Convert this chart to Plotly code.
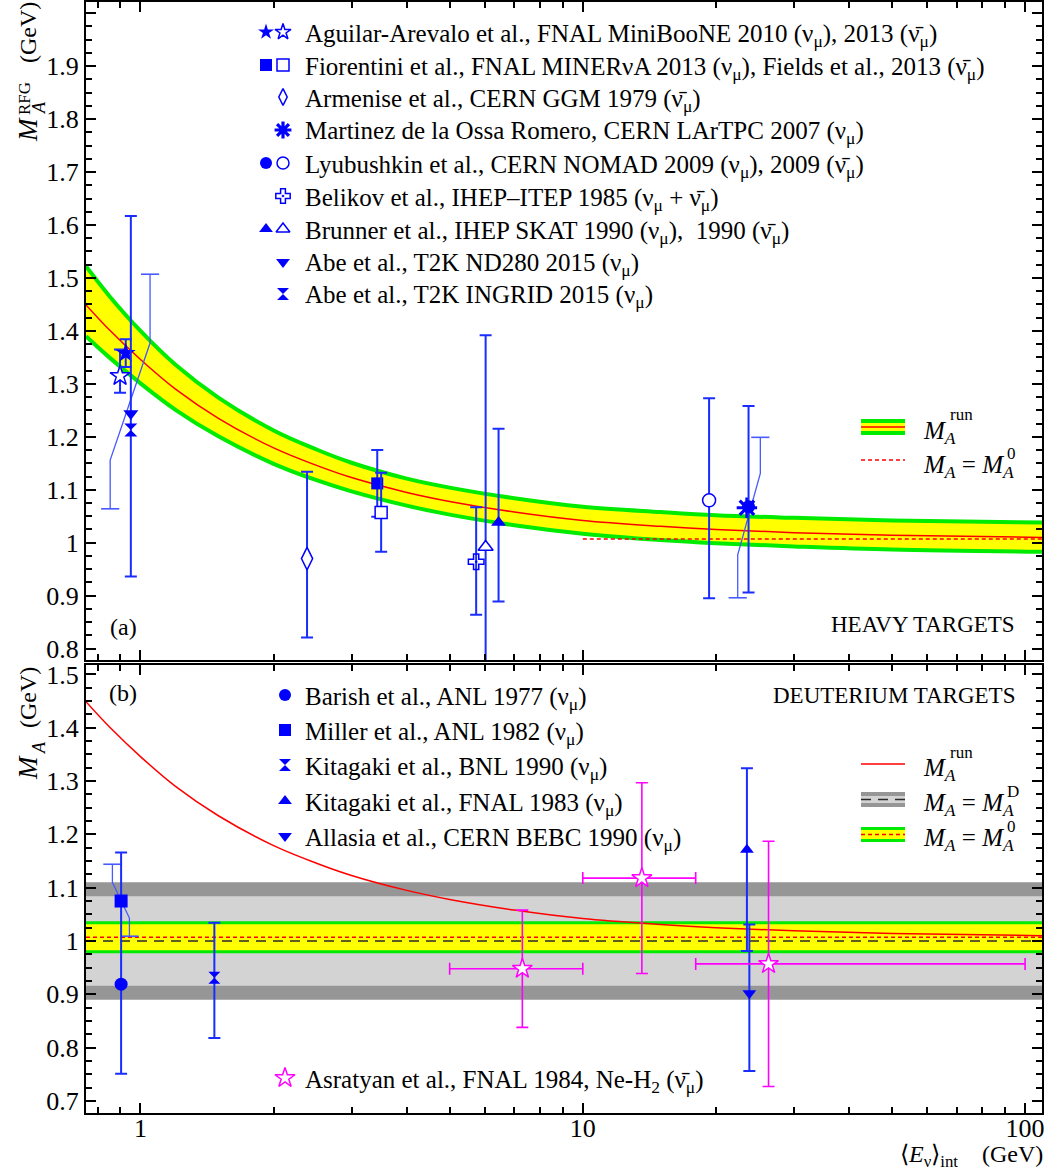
import math
import plotly.graph_objects as go

# ---------------------------------------------------------------- page geometry
W, H = 1047, 1175
ML, MR, MT, MB = 86, 5, 2, 62
PW, PH = W - ML - MR, H - MT - MB

FONT = "Liberation Serif"
BLUE = "rgb(0,0,255)"
BAR_BLUE = "rgb(25,45,255)"
THIN_BLUE = "rgb(70,90,255)"
MAGENTA = "rgb(255,0,255)"
RED = "rgb(255,0,0)"
GREEN = "rgb(0,235,0)"
YELLOW = "rgb(255,255,0)"
DARK_GRAY = "rgb(150,150,150)"
LIGHT_GRAY = "rgb(211,211,211)"

NUB = "ν\u0304"          # antineutrino
NUMU = "ν<sub>μ</sub>"
NUBMU = NUB + "<sub>μ</sub>"

# ---------------------------------------------------------------- axis ranges
E_MIN, E_MAX = 0.753, 109.2
TOP_RANGE = [0.7785, 2.0211]
BOT_RANGE = [0.6773, 1.5178]

# ---------------------------------------------------------------- running axial mass and its band
E_run = [0.753, 0.85, 1.0, 1.2, 1.5, 2.0, 2.5, 3.0, 4.0, 5.0, 7.0, 10.0, 15.0, 20.0, 30.0, 50.0, 110.0]
MA_run = [1.449, 1.402, 1.346, 1.290, 1.235, 1.179, 1.146, 1.123, 1.095, 1.078, 1.058, 1.042,
          1.031, 1.025, 1.019, 1.014, 1.010]
MA_run_hi = [1.522, 1.466, 1.400, 1.336, 1.274, 1.212, 1.176, 1.151, 1.121, 1.104, 1.084, 1.068,
             1.058, 1.052, 1.047, 1.042, 1.038]
MA_run_lo = [1.390, 1.350, 1.301, 1.251, 1.201, 1.149, 1.118, 1.097, 1.070, 1.053, 1.033, 1.017,
             1.005, 0.999, 0.993, 0.987, 0.983]

MA0 = 1.007
MA0_err = 0.027
MA0_from = 10.0
MAD = 1.0
MAD_err_inner = 0.084
MAD_err_outer = 0.110

# ---------------------------------------------------------------- heavy targets
miniboone_nu_E, miniboone_nu_M = [0.926], [1.358]
miniboone_nu_up, miniboone_nu_dn = [0.026], [0.026]
miniboone_nubar_E, miniboone_nubar_M = [0.899], [1.315]
miniboone_nubar_up, miniboone_nubar_dn = [0.050], [0.032]

minerva_nu_E, minerva_nu_M = [3.43], [1.112]
minerva_nu_up, minerva_nu_dn = [0.063], [0.063]
minerva_nubar_E, minerva_nubar_M = [3.50], [1.057]
minerva_nubar_up, minerva_nubar_dn = [0.075], [0.074]

ggm_E, ggm_M = [2.38], [0.970]
ggm_up, ggm_dn = [0.164], [0.149]

lartpc_E, lartpc_M = [23.5], [1.066]
lartpc_bar_E = [25.2, 25.2, 22.4, 22.4]
lartpc_bar_M = [1.199, 1.131, 0.977, 0.896]

nomad_nu_E, nomad_nu_M = [23.7], [1.068]
nomad_nu_up, nomad_nu_dn = [0.190], [0.162]
nomad_nubar_E, nomad_nubar_M = [19.3], [1.080]
nomad_nubar_up, nomad_nubar_dn = [0.193], [0.185]

belikov_E, belikov_M = [5.74], [0.964]
belikov_up, belikov_dn = [0.103], [0.100]

skat_nu_E, skat_nu_M = [6.45], [1.038]
skat_nu_up, skat_nu_dn = [0.177], [0.149]
skat_nubar_E, skat_nubar_M = [6.03], [0.992]
skat_nubar_up, skat_nubar_dn = [0.400], [0.400]

nd280_E, nd280_M = [0.951], [1.244]
nd280_bar_E = [1.051, 1.051, 0.854, 0.854]
nd280_bar_M = [1.507, 1.377, 1.156, 1.064]

ingrid_E, ingrid_M = [0.951], [1.213]
ingrid_up, ingrid_dn = [0.404], [0.277]

# ---------------------------------------------------------------- deuterium targets
barish_E, barish_M = [0.904], [0.919]
barish_up, barish_dn = [0.247], [0.168]

miller_E, miller_M = [0.904], [1.075]
miller_bar_E = [0.864, 0.864, 0.944, 0.944]
miller_bar_M = [1.144, 1.110, 1.043, 1.009]

kitagaki_bnl_E, kitagaki_bnl_M = [1.469], [0.931]
kitagaki_bnl_up, kitagaki_bnl_dn = [0.103], [0.113]

kitagaki_fnal_E, kitagaki_fnal_M = [23.5], [1.171]
kitagaki_fnal_up, kitagaki_fnal_dn = [0.153], [0.190]

allasia_E, allasia_M = [23.8], [0.902]
allasia_up, allasia_dn = [0.129], [0.146]

asratyan_E = [7.3, 13.6, 26.3]
asratyan_E_lo = [5.0, 10.0, 18.0]
asratyan_E_hi = [10.0, 18.0, 100.0]
asratyan_M = [0.948, 1.118, 0.957]
asratyan_err = [0.110, 0.179, 0.230]

# ---------------------------------------------------------------- legend entries
heavy_legend = [
    ("Aguilar-Arevalo et al., FNAL MiniBooNE 2010 (" + NUMU + "), 2013 (" + NUBMU + ")",
     [("star", True), ("star", False)]),
    ("Fiorentini et al., FNAL MINERνA 2013 (" + NUMU + "), Fields et al., 2013 (" + NUBMU + ")",
     [("square", True), ("square", False)]),
    ("Armenise et al., CERN GGM 1979 (" + NUBMU + ")", [("diamond-tall", False)]),
    ("Martinez de la Ossa Romero, CERN LArTPC 2007 (" + NUMU + ")", [("asterisk-open", True)]),
    ("Lyubushkin et al., CERN NOMAD 2009 (" + NUMU + "), 2009 (" + NUBMU + ")",
     [("circle", True), ("circle", False)]),
    ("Belikov et al., IHEP–ITEP 1985 (" + NUMU + " + " + NUBMU + ")", [("cross-open-dot", False)]),
    ("Brunner et al., IHEP SKAT 1990 (" + NUMU + "),  1990 (" + NUBMU + ")",
     [("triangle-up", True), ("triangle-up", False)]),
    ("Abe et al., T2K ND280 2015 (" + NUMU + ")", [("triangle-down", True)]),
    ("Abe et al., T2K INGRID 2015 (" + NUMU + ")", [("hourglass", True)]),
]
heavy_legend_rows = [32, 65, 97, 130, 163, 196, 229, 262, 294]

deut_legend = [
    ("Barish et al., ANL 1977 (" + NUMU + ")", "circle"),
    ("Miller et al., ANL 1982 (" + NUMU + ")", "square"),
    ("Kitagaki et al., BNL 1990 (" + NUMU + ")", "hourglass"),
    ("Kitagaki et al., FNAL 1983 (" + NUMU + ")", "triangle-up"),
    ("Allasia et al., CERN BEBC 1990 (" + NUMU + ")", "triangle-down"),
]
deut_legend_rows = [695, 730, 765, 801, 836]
asratyan_label = "Asratyan et al., FNAL 1984, Ne-H<sub>2</sub> (" + NUBMU + ")"


def PX(x):
    return (x - ML) / PW


def PY(y):
    return (H - MB - y) / PH


fig = go.Figure()


def marker_style(symbol, filled, size, color=BLUE):
    if symbol == "asterisk-open":
        return dict(symbol=symbol, size=size + 2, color=color, line=dict(color=color, width=3.2))
    if symbol.endswith("-open-dot"):
        return dict(symbol=symbol, size=size, color=color, line=dict(color=color, width=1.5))
    if filled:
        return dict(symbol=symbol, size=size, color=color, line=dict(width=0))
    return dict(symbol=symbol, size=size, color="white", line=dict(color=color, width=1.5))


def add_points(E, M, up, dn, symbol, filled, xa, ya, size=14, color=BLUE, bar=BAR_BLUE,
               ex_hi=None, ex_lo=None, thick=2.0):
    tr = go.Scatter(x=E, y=M, mode="markers", marker=marker_style(symbol, filled, size, color),
                    xaxis=xa, yaxis=ya, hoverinfo="skip", showlegend=False, cliponaxis=True)
    if up is not None:
        tr.error_y = dict(type="data", symmetric=False, array=up, arrayminus=dn,
                          color=bar, thickness=thick, width=6)
    if ex_hi is not None:
        tr.error_x = dict(type="data", symmetric=False,
                          array=[h - e for h, e in zip(ex_hi, E)],
                          arrayminus=[e - l for e, l in zip(E, ex_lo)],
                          color=bar, thickness=thick, width=6)
    fig.add_trace(tr)


def add_bent_bar(E_path, M_path, xa, ya, color=THIN_BLUE):
    fig.add_trace(go.Scatter(x=E_path, y=M_path, mode="lines", line=dict(color=color, width=1.3),
                             xaxis=xa, yaxis=ya, hoverinfo="skip", showlegend=False))
    fig.add_trace(go.Scatter(x=[E_path[0], E_path[-1]], y=[M_path[0], M_path[-1]], mode="markers",
                             marker=dict(symbol="line-ew", size=13, line=dict(color=color, width=1.6)),
                             xaxis=xa, yaxis=ya, hoverinfo="skip", showlegend=False))


# ================================================================ (a) heavy targets
fig.add_trace(go.Scatter(x=E_run, y=MA_run_lo, mode="lines", line=dict(width=0, shape="spline"),
                         xaxis="x", yaxis="y", hoverinfo="skip", showlegend=False))
fig.add_trace(go.Scatter(x=E_run, y=MA_run_hi, mode="lines", line=dict(width=0, shape="spline"),
                         fill="tonexty", fillcolor=YELLOW,
                         xaxis="x", yaxis="y", hoverinfo="skip", showlegend=False))
for edge in (MA_run_hi, MA_run_lo):
    fig.add_trace(go.Scatter(x=E_run, y=edge, mode="lines", line=dict(color=GREEN, width=4, shape="spline"),
                             xaxis="x", yaxis="y", hoverinfo="skip", showlegend=False))
fig.add_trace(go.Scatter(x=E_run, y=MA_run, mode="lines", line=dict(color=RED, width=1.5, shape="spline"),
                         xaxis="x", yaxis="y", hoverinfo="skip", showlegend=False))
fig.add_trace(go.Scatter(x=[MA0_from, E_run[-1]], y=[MA0, MA0], mode="lines",
                         line=dict(color=RED, width=1.5, dash="4px,3px"),
                         xaxis="x", yaxis="y", hoverinfo="skip", showlegend=False))

add_bent_bar(nd280_bar_E, nd280_bar_M, "x", "y")
add_bent_bar(lartpc_bar_E, lartpc_bar_M, "x", "y")

add_points(miniboone_nubar_E, miniboone_nubar_M, miniboone_nubar_up, miniboone_nubar_dn, "star", False, "x", "y", size=15)
add_points(miniboone_nu_E, miniboone_nu_M, miniboone_nu_up, miniboone_nu_dn, "star", True, "x", "y", size=15)
add_points(ingrid_E, ingrid_M, ingrid_up, ingrid_dn, "hourglass", True, "x", "y", size=13)
add_points(nd280_E, nd280_M, None, None, "triangle-down", True, "x", "y", size=13)
add_points(ggm_E, ggm_M, ggm_up, ggm_dn, "diamond-tall", False, "x", "y", size=16)
add_points(minerva_nu_E, minerva_nu_M, minerva_nu_up, minerva_nu_dn, "square", True, "x", "y", size=12)
add_points(minerva_nubar_E, minerva_nubar_M, minerva_nubar_up, minerva_nubar_dn, "square", False, "x", "y", size=12)
add_points(belikov_E, belikov_M, belikov_up, belikov_dn, "cross-open-dot", False, "x", "y", size=13)
add_points(skat_nubar_E, skat_nubar_M, skat_nubar_up, skat_nubar_dn, "triangle-up", False, "x", "y", size=13)
add_points(skat_nu_E, skat_nu_M, skat_nu_up, skat_nu_dn, "triangle-up", True, "x", "y", size=13)
add_points(nomad_nubar_E, nomad_nubar_M, nomad_nubar_up, nomad_nubar_dn, "circle", False, "x", "y", size=13)
add_points(lartpc_E, lartpc_M, None, None, "asterisk-open", True, "x", "y", size=15)
add_points(nomad_nu_E, nomad_nu_M, nomad_nu_up, nomad_nu_dn, "circle", True, "x", "y", size=13)

# ================================================================ (b) deuterium targets
band_shapes = [
    (MAD - MAD_err_outer, MAD + MAD_err_outer, DARK_GRAY),
    (MAD - MAD_err_inner, MAD + MAD_err_inner, LIGHT_GRAY),
    (MA0 - MA0_err, MA0 + MA0_err, YELLOW),
]
for lo, hi, col in band_shapes:
    fig.add_shape(type="rect", xref="x2 domain", yref="y2", x0=0, x1=1, y0=lo, y1=hi,
                  fillcolor=col, line=dict(width=0), layer="below")
for yv in (MA0 - MA0_err, MA0 + MA0_err):
    fig.add_shape(type="line", xref="x2 domain", yref="y2", x0=0, x1=1, y0=yv, y1=yv,
                  line=dict(color=GREEN, width=3), layer="below")
fig.add_shape(type="line", xref="x2 domain", yref="y2", x0=0, x1=1, y0=MAD, y1=MAD,
              line=dict(color="rgb(40,40,40)", width=1.6, dash="10px,7px"), layer="below")
fig.add_shape(type="line", xref="x2 domain", yref="y2", x0=0, x1=1, y0=MA0, y1=MA0,
              line=dict(color=RED, width=1.5, dash="4px,3px"), layer="below")

fig.add_trace(go.Scatter(x=E_run, y=MA_run, mode="lines", line=dict(color=RED, width=1.5, shape="spline"),
                         xaxis="x2", yaxis="y2", hoverinfo="skip", showlegend=False))

add_bent_bar(miller_bar_E, miller_bar_M, "x2", "y2")
add_points(barish_E, barish_M, barish_up, barish_dn, "circle", True, "x2", "y2", size=13)
add_points(miller_E, miller_M, None, None, "square", True, "x2", "y2", size=13)
add_points(kitagaki_bnl_E, kitagaki_bnl_M, kitagaki_bnl_up, kitagaki_bnl_dn, "hourglass", True, "x2", "y2", size=12)
add_points(kitagaki_fnal_E, kitagaki_fnal_M, kitagaki_fnal_up, kitagaki_fnal_dn, "triangle-up", True, "x2", "y2", size=12)
add_points(allasia_E, allasia_M, allasia_up, allasia_dn, "triangle-down", True, "x2", "y2", size=12)
add_points(asratyan_E, asratyan_M, asratyan_err, asratyan_err, "star", False, "x2", "y2", size=15,
           color=MAGENTA, bar=MAGENTA, ex_hi=asratyan_E_hi, ex_lo=asratyan_E_lo, thick=1.6)

# ================================================================ legends (pixel overlay)
def legend_marker(x, y, symbol, filled, size=12, color=BLUE):
    fig.add_trace(go.Scatter(x=[x], y=[y], mode="markers", marker=marker_style(symbol, filled, size, color),
                             xaxis="x3", yaxis="y3", hoverinfo="skip", showlegend=False))


def txt(x, y, s, size=25, xanchor="left", yanchor="middle", angle=0, color="black"):
    fig.add_annotation(x=PX(x), y=PY(y), xref="paper", yref="paper", text=s, showarrow=False,
                       font=dict(family=FONT, size=size, color=color),
                       xanchor=xanchor, yanchor=yanchor, textangle=angle)


for (label, marks), yrow in zip(heavy_legend, heavy_legend_rows):
    xs = [266, 283] if len(marks) == 2 else [283]
    for xm, (sym, filled) in zip(xs, marks):
        legend_marker(xm, yrow, sym, filled, size=12)
    txt(303, yrow + 3, label)

for (label, sym), yrow in zip(deut_legend, deut_legend_rows):
    legend_marker(285, yrow, sym, True, size=12)
    txt(303, yrow + 3, label)

legend_marker(285, 1078, "star", False, size=15, color=MAGENTA)
txt(303, 1081, asratyan_label)


def rect(x0, x1, y0, y1, color):
    fig.add_shape(type="rect", xref="paper", yref="paper", x0=PX(x0), x1=PX(x1), y0=PY(y1), y1=PY(y0),
                  fillcolor=color, line=dict(width=0), layer="above")


def hline(x0, x1, y, color, width=1.5, dash=None):
    fig.add_shape(type="line", xref="paper", yref="paper", x0=PX(x0), x1=PX(x1), y0=PY(y), y1=PY(y),
                  line=dict(color=color, width=width, dash=dash), layer="above")


def ma_label(x, y, sup, with_eq=False):
    main = "<i>M</i><sub><i>A</i></sub>"
    if with_eq:
        main += " = <i>M</i><sub><i>A</i></sub>"
        txt(x, y + 5, main, size=25)
        txt(1005, y - 8, sup, size=17)
    else:
        txt(x, y + 5, main, size=25)
        txt(948, y - 12, sup, size=17)


# heavy-target curve key
rect(861, 905, 419, 435, GREEN)
rect(861, 905, 423, 431, YELLOW)
hline(861, 905, 427, RED, 1.5)
hline(861, 905, 460, RED, 1.5, "4px,3px")
ma_label(921, 427, "run")
ma_label(921, 461, "0", with_eq=True)

# deuterium curve key
hline(861, 905, 764, RED, 1.5)
rect(861, 905, 792, 807, DARK_GRAY)
rect(861, 905, 796, 803, LIGHT_GRAY)
hline(861, 905, 799.5, "rgb(40,40,40)", 1.6, "10px,7px")
rect(861, 905, 827, 842, GREEN)
rect(861, 905, 830, 839, YELLOW)
hline(861, 905, 834.5, RED, 1.5, "4px,3px")
ma_label(921, 764, "run")
ma_label(921, 799, "D", with_eq=True)
ma_label(921, 834, "0", with_eq=True)

# panel captions
txt(123, 627, "(a)", size=24, xanchor="center")
txt(1017, 625, "HEAVY TARGETS", size=23, xanchor="right")
txt(123, 693, "(b)", size=24, xanchor="center")
txt(1017, 695, "DEUTERIUM TARGETS", size=23, xanchor="right")

# axis titles
txt(28, 130, "<i>M</i>", size=27, xanchor="center", angle=-90)
txt(39, 108, "<i>A</i>", size=18, xanchor="center", angle=-90)
txt(24, 99, "RFG", size=17, xanchor="center", angle=-90)
txt(28, 33, "(GeV)", size=24, xanchor="center", angle=-90)

txt(28, 768, "<i>M</i>", size=27, xanchor="center", angle=-90)
txt(39, 748, "<i>A</i>", size=18, xanchor="center", angle=-90)
txt(28, 698, "(GeV)", size=24, xanchor="center", angle=-90)

txt(1045, 1156, "\u27e8<i>E</i><sub>ν</sub>\u27e9<sub>int</sub>\u2002\u2002(GeV)", size=24, xanchor="right")

# ================================================================ axes
tickfont = dict(family=FONT, size=26, color="black")
frame = dict(showline=True, linewidth=2, linecolor="black", mirror="ticks", ticks="inside",
             ticklen=10, tickwidth=1.5, tickcolor="black", showgrid=False, zeroline=False,
             tickfont=tickfont)
xlog = dict(type="log", range=[math.log10(E_MIN), math.log10(E_MAX)], dtick=1,
            minor=dict(ticks="inside", ticklen=6, tickwidth=1.5, tickcolor="black", dtick="D1", showgrid=False))
ylin = dict(dtick=0.1, tick0=0,
            minor=dict(ticks="inside", ticklen=6, tickwidth=1.5, tickcolor="black", dtick=0.025, showgrid=False))

TOP0 = PY(660)
BOT1 = PY(665)

fig.update_layout(
    width=W, height=H, margin=dict(l=ML, r=MR, t=MT, b=MB, autoexpand=False),
    paper_bgcolor="white", plot_bgcolor="rgba(0,0,0,0)", showlegend=False,
    xaxis=dict(domain=[0, 1], anchor="y", showticklabels=False, **xlog, **frame),
    yaxis=dict(domain=[TOP0, 1], anchor="x", range=TOP_RANGE, **ylin, **frame),
    xaxis2=dict(domain=[0, 1], anchor="y2", showticklabels=True, ticklabelstandoff=-9, **xlog, **frame),
    yaxis2=dict(domain=[0, BOT1], anchor="x2", range=BOT_RANGE, **ylin, **frame),
    xaxis3=dict(domain=[0, 1], anchor="y3", range=[ML, W - MR], visible=False, fixedrange=True),
    yaxis3=dict(domain=[0, 1], anchor="x3", range=[H - MB, MT], visible=False, fixedrange=True),
)

fig.write_html("out.html")
